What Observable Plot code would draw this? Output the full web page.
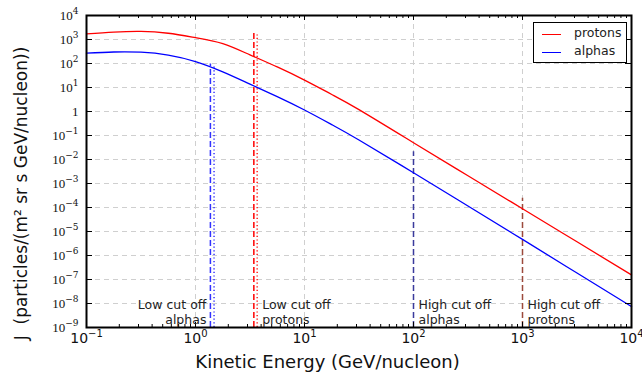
<!DOCTYPE html>
<html><head><meta charset="utf-8">
<script src="https://cdn.jsdelivr.net/npm/d3@7"></script>
<script src="https://cdn.jsdelivr.net/npm/@observablehq/plot@0.6"></script>
<style>
body{margin:0;background:#fff;}
#wrap{position:relative;width:642px;height:384px;overflow:hidden;}
#legend{position:absolute;left:533px;top:22px;width:92px;height:39px;border:1px solid #000;background:#fff;font-family:"DejaVu Sans",sans-serif;font-size:12.5px;color:#222;}
#legend .sw{position:absolute;left:8px;width:19px;height:0;border-top:1.3px solid;}
#legend .lab{position:absolute;left:40px;line-height:14px;}
</style></head><body><div id="wrap"></div>
<script>
// Kinetic energy grid (GeV/nucleon)
const energy = [0.1, 0.178, 0.316, 0.562, 1, 1.78, 3.16, 5.62, 10, 17.8, 31.6, 100, 316, 1000, 3162, 10000];
// Flux J (particles/(m^2 sr s GeV/nucleon))
const protons = [1700, 2040, 2190, 1820, 1200, 676, 229, 72.4, 20.4, 5.13, 1.20, 0.0501, 0.00209, 8.91e-5, 3.72e-6, 1.55e-7];
const alphas  = [269, 302, 295, 224, 120, 44.7, 13.8, 4.17, 1.15, 0.282, 0.0646, 0.00282, 1.15e-4, 4.68e-6, 1.86e-7, 7.41e-9];
const seriesNames = ["protons", "alphas"];

// Cut-off markers
const cutEnergy = [1.37, 1.48, 3.43, 3.68, 100, 1000];
const cutTop    = [95, 80, 1900, 1550, 0.021, 2.4e-4];
const annotEnergy = [1.37, 3.68, 100, 1000];
const annotText = ["Low cut off\nalphas", "Low cut off\nprotons", "High cut off\nalphas", "High cut off\nprotons"];

// Axis ticks (base and exponent of each label)
const xTicks = [0.1, 1, 10, 100, 1000, 10000];
const xTickBase = ["10", "10", "10", "10", "10", "10"];
const xTickExp  = ["−1", "0", "1", "2", "3", "4"];
const yTicks = [1e-9, 1e-8, 1e-7, 1e-6, 1e-5, 1e-4, 1e-3, 1e-2, 1e-1, 1, 10, 100, 1000, 10000];
const yTickBase = ["10", "10", "10", "10", "10", "10", "10", "10", "10", "1", "10", "10", "10", "10"];
const yTickExp  = ["−9", "−8", "−7", "−6", "−5", "−4", "−3", "−2", "−1", "", "1", "2", "3", "4"];
const xLabel = "Kinetic Energy (GeV/nucleon)";
const yLabel = "J\u00a0 (particles/(m² sr s GeV/nucleon))";

const W = 642, H = 384, mt = 15, mb = 57, ml = 86, mr = 11;
const iH = H - mt - mb, iW = W - ml - mr;

const rows = [];
energy.forEach((e, i) => {
  rows.push({series: seriesNames[0], E: e, J: protons[i]});
  rows.push({series: seriesNames[1], E: e, J: alphas[i]});
});
const cuts = cutEnergy.map((e, i) => ({E: e, top: cutTop[i]}));
const cutStyle = [
  {stroke: "#3333ff", dash: "6,3"},
  {stroke: "#3333ff", dash: "1.2,2.4"},
  {stroke: "#ff0000", dash: "6,3"},
  {stroke: "#ff2020", dash: "1.2,2.4"},
  {stroke: "#3a3a9c", dash: "6,3"},
  {stroke: "#9c4a3c", dash: "6,3"}
];
const annots = annotEnergy.map((e, i) => ({E: e, t: annotText[i]}));
const innerX = xTicks.slice(1, -1);
const innerY = yTicks.slice(1, -1);
const minorX = d3.scaleLog().domain([0.1, 1e4]).ticks().filter(v => Math.abs(Math.log10(v) - Math.round(Math.log10(v))) > 1e-6);
const xb = new Map(xTicks.map((v, i) => [v, xTickBase[i]]));
const yb = new Map(yTicks.map((v, i) => [v, yTickBase[i]]));

const grid = {stroke: "#cfcfcf", strokeWidth: 1, strokeDasharray: "5,4"};

const plot = Plot.plot({
  width: W, height: H,
  marginTop: mt, marginBottom: mb, marginLeft: ml, marginRight: mr,
  style: {fontFamily: "DejaVu Sans, sans-serif", background: "#fff", overflow: "visible"},
  x: {type: "log", domain: [0.1, 1e4], axis: null},
  y: {type: "log", domain: [1e-9, 1e4], axis: null},
  marks: [
    Plot.ruleX(innerX, {x: d => d, ...grid}),
    Plot.ruleY(innerY, {y: d => d, ...grid}),
    ...cuts.map((c, i) => Plot.ruleX([c], {x: "E", y1: 1e-9, y2: "top", stroke: cutStyle[i].stroke, strokeWidth: 1.5, strokeDasharray: cutStyle[i].dash})),
    Plot.line(rows, {x: "E", y: "J", z: "series", stroke: d => d.series === "protons" ? "#ff0000" : "#0000ff", strokeWidth: 1.3, curve: "natural"}),
    // ticks (inward)
    Plot.ruleX(xTicks, {x: d => d, insetTop: iH - 5, stroke: "#000"}),
    Plot.ruleX(xTicks, {x: d => d, insetBottom: iH - 5, stroke: "#000"}),
    Plot.ruleX(minorX, {x: d => d, insetTop: iH - 3, stroke: "#000"}),
    Plot.ruleX(minorX, {x: d => d, insetBottom: iH - 3, stroke: "#000"}),
    Plot.ruleY(yTicks, {y: d => d, insetRight: iW - 6, stroke: "#000"}),
    Plot.ruleY(yTicks, {y: d => d, insetLeft: iW - 6, stroke: "#000"}),
    Plot.frame({stroke: "#000", strokeWidth: 2}),
    // text marks (order matters for post-processing below)
    Plot.text(yTicks, {y: d => d, frameAnchor: "left", text: d => yb.get(d), textAnchor: "end", dx: -8, fontSize: 13, fontFamily: "Liberation Serif, DejaVu Serif, serif", fill: "#111"}),
    Plot.text(xTicks, {x: d => d, frameAnchor: "bottom", text: d => xb.get(d), dy: 15, fontSize: 14, fill: "#111"}),
    Plot.text(annots.slice(0, 1), {x: "E", text: "t", frameAnchor: "bottom", lineAnchor: "bottom", textAnchor: "end", dx: -4, dy: -4, fontSize: 12.5, lineHeight: 1.15, fill: "#222"}),
    Plot.text(annots.slice(1), {x: "E", text: "t", frameAnchor: "bottom", lineAnchor: "bottom", textAnchor: "start", dx: 5, dy: -4, fontSize: 12.5, lineHeight: 1.15, fill: "#222"}),
    Plot.text([xLabel], {text: d => d, frameAnchor: "bottom", dx: -31.5, dy: 40, fontSize: 18, fill: "#111"}),
    Plot.text([yLabel], {text: d => d, frameAnchor: "left", rotate: -90, fontSize: 17, fill: "#111"})
  ]
});

const textGroups = plot.querySelectorAll('g[aria-label="text"]');

function addExponents(g, exps, expDy, expSize, expFont) {
  if (!g) return;
  g.querySelectorAll("text").forEach((t, i) => {
    const e = exps[i];
    if (!e) return;
    const ts = document.createElementNS("http://www.w3.org/2000/svg", "tspan");
    ts.setAttribute("dy", expDy);
    ts.setAttribute("font-size", expSize);
    if (expFont) ts.setAttribute("font-family", expFont);
    ts.textContent = e;
    t.appendChild(ts);
  });
}
addExponents(textGroups[0], yTickExp, -6, 9, "DejaVu Serif, serif");
addExponents(textGroups[1], xTickExp, -6, 10);

const wrap = document.getElementById("wrap");
wrap.appendChild(plot);

// place rotated y label centred at the reference position
const ylab = textGroups[5] && textGroups[5].querySelector("text");
if (ylab) {
  const r = ylab.getBoundingClientRect();
  const s = plot.getBoundingClientRect();
  const cx = r.left + r.width / 2 - s.left, cy = r.top + r.height / 2 - s.top;
  const tx = 21 - cx, ty = 194 - cy;
  ylab.setAttribute("transform", `translate(${tx},${ty}) ` + (ylab.getAttribute("transform") || ""));
}

const leg = document.createElement("div");
leg.id = "legend";
const legColors = ["#ff0000", "#0000ff"];
seriesNames.forEach((n, i) => {
  const sw = document.createElement("div");
  sw.className = "sw"; sw.style.top = (11 + 18.4 * i) + "px"; sw.style.borderTopColor = legColors[i];
  const lb = document.createElement("div");
  lb.className = "lab"; lb.style.top = (3 + 18.4 * i) + "px"; lb.textContent = n;
  leg.appendChild(sw); leg.appendChild(lb);
});
wrap.appendChild(leg);
</script></body></html>
